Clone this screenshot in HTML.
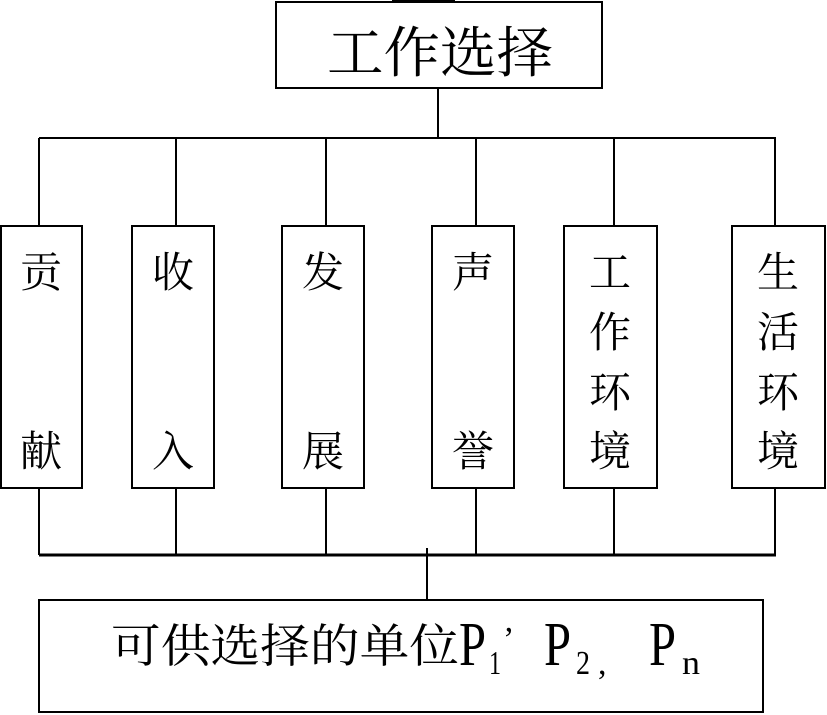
<!DOCTYPE html>
<html><head><meta charset="utf-8"><style>
html,body{margin:0;padding:0;background:#fff;}
svg{display:block;}
text{font-family:"Liberation Serif","Noto Serif CJK SC","Noto Sans CJK SC",serif;fill:#000;}
</style></head><body>
<svg width="827" height="715" viewBox="0 0 827 715" xmlns="http://www.w3.org/2000/svg">
<g fill="none" stroke="#000" stroke-width="2">
<rect x="276" y="2" width="326" height="86"/>
<line x1="438" y1="88" x2="438" y2="138"/>
<line x1="39" y1="138" x2="776" y2="138"/>
<line x1="39" y1="138" x2="39" y2="226"/>
<line x1="176" y1="138" x2="176" y2="226"/>
<line x1="326" y1="138" x2="326" y2="226"/>
<line x1="476" y1="138" x2="476" y2="226"/>
<line x1="614" y1="138" x2="614" y2="226"/>
<line x1="775" y1="138" x2="775" y2="226"/>
<rect x="1" y="226" width="81" height="262"/>
<rect x="132" y="226" width="82" height="262"/>
<rect x="282" y="226" width="82" height="262"/>
<rect x="432" y="226" width="82" height="262"/>
<rect x="564" y="226" width="93" height="262"/>
<rect x="732" y="226" width="93" height="262"/>
<line x1="39" y1="488" x2="39" y2="555"/>
<line x1="176" y1="488" x2="176" y2="555"/>
<line x1="326" y1="488" x2="326" y2="555"/>
<line x1="476" y1="488" x2="476" y2="555"/>
<line x1="614" y1="488" x2="614" y2="555"/>
<line x1="775" y1="488" x2="775" y2="555"/>
<line x1="39" y1="555" x2="776" y2="555" stroke-width="3"/>
<line x1="427" y1="548" x2="427" y2="600"/>
<rect x="39" y="600" width="724" height="112"/>
</g>
<rect x="392" y="0" width="63" height="3" fill="#000"/>
<text x="327" y="72" font-size="55" textLength="226" lengthAdjust="spacingAndGlyphs">工作选择</text>
<g font-size="42" text-anchor="middle">
<text x="41" y="287">贡</text><text x="41" y="466">献</text>
<text x="173" y="287">收</text><text x="173" y="466">入</text>
<text x="323" y="287">发</text><text x="323" y="466">展</text>
<text x="473" y="287">声</text><text x="473" y="466">誉</text>
<text x="610" y="287">工</text><text x="610" y="347">作</text><text x="610" y="407">环</text><text x="610" y="466">境</text>
<text x="778" y="287">生</text><text x="778" y="347">活</text><text x="778" y="407">环</text><text x="778" y="466">境</text>
</g>
<text x="111" y="662" font-size="46" textLength="348" lengthAdjust="spacingAndGlyphs">可供选择的单位</text>
<g font-size="62">
<text x="459" y="665" textLength="27" lengthAdjust="spacingAndGlyphs">P</text>
<text x="544" y="665" textLength="27" lengthAdjust="spacingAndGlyphs">P</text>
<text x="649" y="665" textLength="27" lengthAdjust="spacingAndGlyphs">P</text>
</g>
<g font-size="34">
<text x="489" y="674" textLength="12" lengthAdjust="spacingAndGlyphs">1</text>
<text x="503" y="650">’</text>
<text x="576" y="674" textLength="14" lengthAdjust="spacingAndGlyphs">2</text>
<text x="598" y="674">,</text>
<text x="682" y="674" textLength="18" lengthAdjust="spacingAndGlyphs">n</text>
</g>
</svg>
</body></html>
